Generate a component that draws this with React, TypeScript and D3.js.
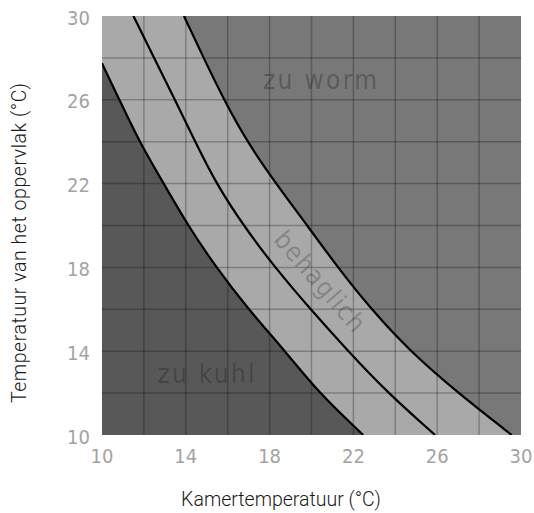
import React from "react";
import * as d3 from "d3";

// Axis ticks (°C)
const roomTicks = [10, 14, 18, 22, 26, 30];
const surfaceTicks = [10, 14, 18, 22, 26, 30];
const gridValues = [12, 14, 16, 18, 20, 22, 24, 26, 28];

// Boundary curves: room temperature (x) vs surface temperature (y)
const lowerRoom = [10, 10.83, 11.78, 12.95, 14.1, 15.45, 16.98, 18.75, 20.35, 22.47];
const lowerSurface = [27.74, 26, 24, 22, 20, 18, 16, 14, 12, 10];

const middleRoom = [11.5, 12.49, 13.48, 14.45, 15.45, 16.75, 18.25, 19.95, 21.75, 23.65, 25.9];
const middleSurface = [30, 28, 26, 24, 22, 20, 18, 16, 14, 12, 10];

const upperRoom = [13.91, 14.85, 15.82, 16.92, 18.3, 19.8, 21.25, 22.85, 24.7, 27.0, 29.56];
const upperSurface = [30, 28, 26, 24, 22, 20, 18, 16, 14, 12, 10];

const zoneLabels = ["zu worm", "behaglich", "zu kuhl"];
const xTitle = "Kamertemperatuur (°C)";
const yTitle = "Temperatuur van het oppervlak (°C)";

const W = 534;
const H = 513;
const M = { left: 102, top: 16, right: 521, bottom: 435 };

export default function App() {
  const x = d3.scaleLinear().domain([10, 30]).range([M.left, M.right]);
  const y = d3.scaleLinear().domain([10, 30]).range([M.bottom, M.top]);

  const line = d3
    .line<[number, number]>()
    .x((d) => x(d[0]))
    .y((d) => y(d[1]))
    .curve(d3.curveBasis);

  const zip = (a: number[], b: number[]) => a.map((v, i) => [v, b[i]] as [number, number]);
  const lower = zip(lowerRoom, lowerSurface);
  const middle = zip(middleRoom, middleSurface);
  const upper = zip(upperRoom, upperSurface);

  const lowerPath = line(lower) || "";
  const middlePath = line(middle) || "";
  const upperPath = line(upper) || "";

  const lightArea = `${upperPath}L${x(10)},${y(10)}L${x(10)},${y(30)}Z`;
  const darkArea = `${lowerPath}L${x(10)},${y(10)}Z`;

  const techFont = "'DejaVu Sans Condensed', 'DejaVu Sans', sans-serif";
  const titleFont = "Roboto, 'Liberation Sans', Arial, sans-serif";

  return (
    <svg
      width={W}
      height={H}
      style={{ position: "absolute", left: 0, top: 0, background: "#fff" }}
    >
      <defs>
        <clipPath id="plot">
          <rect x={M.left} y={M.top} width={M.right - M.left} height={M.bottom - M.top} />
        </clipPath>
      </defs>
      <g clipPath="url(#plot)">
        <rect x={M.left} y={M.top} width={M.right - M.left} height={M.bottom - M.top} fill="#787878" />
        <path d={lightArea} fill="#a9a9a9" />
        <path d={darkArea} fill="#585858" />
        {gridValues.map((v) => (
          <g key={v}>
            <line x1={x(v)} x2={x(v)} y1={M.top} y2={M.bottom} stroke="rgba(0,0,0,0.25)" strokeWidth={1.5} />
            <line x1={M.left} x2={M.right} y1={y(v)} y2={y(v)} stroke="rgba(0,0,0,0.25)" strokeWidth={1.5} />
          </g>
        ))}
        <path d={lowerPath} fill="none" stroke="#000" strokeWidth={2.2} />
        <path d={middlePath} fill="none" stroke="#000" strokeWidth={2.2} />
        <path d={upperPath} fill="none" stroke="#000" strokeWidth={2.2} />
        <text
          x={320}
          y={89}
          fontFamily={techFont}
          fontWeight={200}
          fontSize={26}
          fill="rgba(0,0,0,0.25)"
          textAnchor="middle"
          textLength={114}
          lengthAdjust="spacing"
        >
          {zoneLabels[0]}
        </text>
        <text
          transform={`translate(319,282) rotate(49)`}
          dy="0.3em"
          fontFamily={techFont}
          fontWeight={200}
          fontSize={26}
          fill="rgba(0,0,0,0.22)"
          textAnchor="middle"
          textLength={124}
          lengthAdjust="spacing"
        >
          {zoneLabels[1]}
        </text>
        <text
          x={206}
          y={383}
          fontFamily={techFont}
          fontWeight={200}
          fontSize={26}
          fill="rgba(0,0,0,0.22)"
          textAnchor="middle"
          textLength={97}
          lengthAdjust="spacing"
        >
          {zoneLabels[2]}
        </text>
      </g>
      {surfaceTicks.map((v) => (
        <text
          key={"y" + v}
          x={90}
          y={y(v) + 1.5}
          dy="0.35em"
          textAnchor="end"
          fontFamily={techFont}
          fontWeight={200}
          fontSize={20}
          fill="#a3a3a3"
        >
          {v}
        </text>
      ))}
      {roomTicks.map((v) => (
        <text
          key={"x" + v}
          x={x(v)}
          y={455.5}
          dy="0.35em"
          textAnchor="middle"
          fontFamily={techFont}
          fontWeight={200}
          fontSize={20}
          fill="#a3a3a3"
        >
          {v}
        </text>
      ))}
      <text
        x={281}
        y={506}
        textAnchor="middle"
        fontFamily={titleFont}
        fontWeight={300}
        fontSize={19.5}
        fill="#1a1a1a"
      >
        {xTitle}
      </text>
      <text
        transform={`translate(26,243) rotate(-90)`}
        textAnchor="middle"
        fontFamily={titleFont}
        fontWeight={300}
        fontSize={19.5}
        fill="#1a1a1a"
        textLength={320}
        lengthAdjust="spacing"
      >
        {yTitle}
      </text>
    </svg>
  );
}
